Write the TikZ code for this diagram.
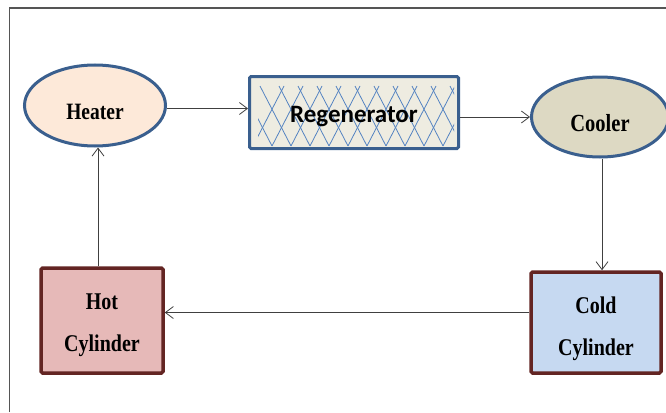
\documentclass[tikz,border=0pt]{standalone}
\usepackage{fontspec}
\setmainfont{Liberation Serif}
\newfontfamily\calib{Carlito}
\usetikzlibrary{arrows.meta,shapes.geometric,calc}
\definecolor{framec}{HTML}{555555}
\definecolor{arrc}{HTML}{404040}
\definecolor{blueb}{HTML}{3A5F8E}
\definecolor{redb}{HTML}{632523}
\definecolor{heaterfill}{HTML}{FDE9D9}
\definecolor{regenfill}{HTML}{EEECE1}
\definecolor{coolerfill}{HTML}{DDD9C3}
\definecolor{coldfill}{HTML}{C6D9F1}
\definecolor{hotfill}{HTML}{E6B9B8}
\definecolor{hatchc}{HTML}{5584C2}
\newcommand{\vstr}[1]{\scalebox{1}[1.2]{#1}}
\begin{document}
\begin{tikzpicture}[x=1pt,y=-1pt,
  ellbox/.style={ellipse, draw=blueb, line width=3pt, inner sep=0pt},
  rectbox/.style={rectangle, line width=3.5pt, rounded corners=1.5pt, inner sep=0pt},
  arr/.style={draw=arrc, line width=0.8pt, -{Straight Barb[length=8pt,width=12pt,line width=0.8pt]}},
  hatch/.style={draw=hatchc, line width=0.8pt},
  lbl/.style={inner sep=0pt, font=\bfseries\fontsize{19.5}{19.5}\selectfont},
  lbltwo/.style={inner sep=0pt, align=center, font=\bfseries\fontsize{20}{42}\selectfont}]
\useasboundingbox (0,0) rectangle (666,412);
\draw[framec, line width=1.2pt] (9.5,412) -- (9.5,8) -- (666,8);

\node[ellbox, fill=heaterfill, minimum width=141, minimum height=81] (heater) at (95,105.5) {};
\node[rectbox, draw=blueb, line width=3pt, fill=regenfill, minimum width=209, minimum height=72] (regen) at (354,112.5) {};
\node[ellbox, fill=coolerfill, minimum width=137, minimum height=80] (cooler) at (600,117) {};
\node[rectbox, draw=redb, fill=coldfill, minimum width=130, minimum height=101] (cold) at (596,322.5) {};
\node[rectbox, draw=redb, fill=hotfill, minimum width=122, minimum height=105] (hot) at (102,320.5) {};

\begin{scope}
  \clip (258,85) rectangle (454,146);
  \foreach \k in {0,...,11} {
    \draw[hatch] (253+\k*19,146) -- ++(31,-60);
    \draw[hatch] (272+\k*19,146) -- ++(-31,-60);
  }
\end{scope}

\node[lbl] (heatertxt) at ([yshift=-6pt]heater.center) {\vstr{Heater}};
\node[inner sep=0pt, font=\calib\bfseries\fontsize{25}{25}\selectfont] (regentxt) at ([yshift=-4pt]regen.center) {Regenerator};
\node[lbl, font=\bfseries\fontsize{20.5}{20.5}\selectfont] (coolertxt) at ([yshift=-6pt]cooler.center) {\vstr{Cooler}};
\node[lbltwo] (coldtxt) at ([yshift=-6pt]cold.center) {\vstr{Cold}\\\vstr{Cylinder}};
\node[lbltwo] (hottxt) at ([yshift=-5pt]hot.center) {\vstr{Hot}\\\vstr{Cylinder}};

\draw[arr] ([yshift=-3pt]heater.east) -- ([yshift=-3pt]heater.east -| regen.west);
\draw[arr] (regen.east |- cooler.west) -- (cooler.west);
\draw[arr] ([xshift=2pt]cooler.south) -- ([xshift=2pt]cooler.south |- cold.north);
\draw[arr] ([yshift=10pt]cold.west) -- ([yshift=10pt]cold.west -| hot.east);
\draw[arr] ([xshift=-4pt]hot.north) -- ([xshift=-4pt]hot.north |- heater.south);
\end{tikzpicture}
\end{document}
